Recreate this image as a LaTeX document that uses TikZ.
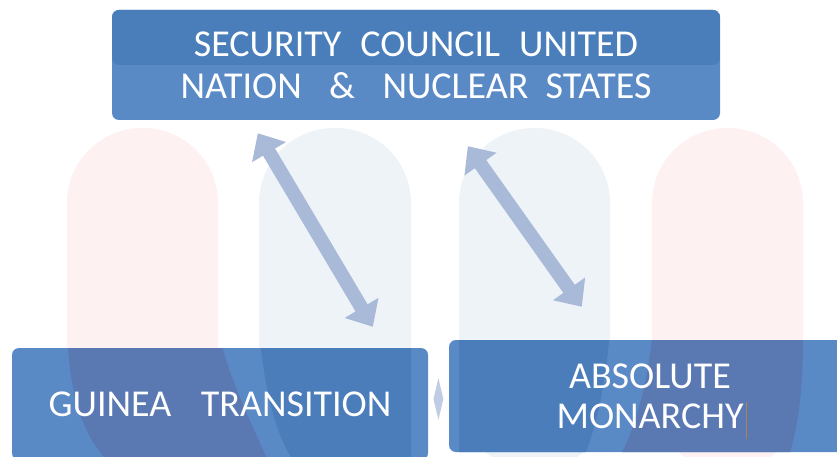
\documentclass[tikz,border=0pt]{standalone}
\usepackage{fontspec}
\setmainfont{Carlito}
\usetikzlibrary{positioning,arrows.meta,shapes.geometric}

\definecolor{boxlight}{HTML}{5A8AC6}
\definecolor{boxdark}{HTML}{4A7EBB}
\definecolor{tintblue}{HTML}{4A7DBA}
\definecolor{tintpink}{HTML}{5A79B3}
\definecolor{pillpink}{HTML}{FDF1F1}
\definecolor{pillblue}{HTML}{EEF3F8}
\definecolor{arrowblue}{HTML}{A8BAD8}
\definecolor{gapblue}{HTML}{BFCCE3}
\definecolor{caretbrown}{HTML}{B08050}

\tikzset{
  box/.style={rounded corners=7pt, fill=boxlight, text=white, align=center,
    inner sep=0pt, font=\fontsize{38}{42}\selectfont},
  lefttint/.style={path picture={
      \pgftransformreset
      \fill[tintpink] (67,330) .. controls (70,400) and (85,440) .. (117,470)
        -- (272,470) .. controls (250,420) and (230,380) .. (218,330) -- cycle;
      \fill[tintblue] (259,330) .. controls (266,400) and (278,440) .. (300,470)
        -- (411,470) -- (411,330) -- cycle;
    }},
  righttint/.style={path picture={
      \pgftransformreset
      \fill[tintblue] (459,330) -- (610,330) .. controls (604,400) and (592,440) .. (578,470)
        -- (459,470) -- cycle;
      \fill[tintpink] (653,330) .. controls (645,400) and (630,440) .. (612,470)
        -- (785,470) .. controls (797,430) and (803,400) .. (803,330) -- cycle;
    }},
  twin/.style={draw=arrowblue, line width=14pt,
    {Triangle[length=22pt,width=38pt]}-{Triangle[length=22pt,width=38pt]}},
}

\begin{document}
\begin{tikzpicture}[x=1pt,y=-1pt]
    \useasboundingbox (0,0) rectangle (837,457);
    % columns behind
    \foreach \xa/\xb/\pill in {67/218/pillpink, 259/411/pillblue, 459/610/pillblue, 652/803/pillpink}
      \fill[\pill, rounded corners=75pt] (\xa,128) rectangle (\xb,470);

    \node[box, minimum width=608pt, minimum height=110pt,
      path picture={\fill[boxdark] (path picture bounding box.north west) rectangle (path picture bounding box.east);}]
      (council) at (416,65)
      {SECURITY\hspace{.5em}COUNCIL\hspace{.5em}UNITED\\NATION\hspace{.72em}\&\hspace{.72em}NUCLEAR\hspace{.45em}STATES};
    \node[box, lefttint, minimum width=416pt, minimum height=112pt] (guinea) at (220,404)
      {GUINEA\hspace{.78em}TRANSITION};
    \node[box, righttint, minimum width=402pt, minimum height=112pt,
      font=\fontsize{38}{40}\selectfont] (monarchy) at (650,396)
      {ABSOLUTE\\MONARCHY};
    \node[shape=diamond, fill=gapblue, minimum width=10pt, minimum height=42pt,
      inner sep=0pt, right=5pt of guinea, yshift=5pt] (gap) {};

    \coordinate (c1) at ([shift={(146pt,-13pt)}]council.south west);
    \coordinate (c2) at ([shift={(361pt,21pt)}]guinea.north west);
    \coordinate (c3) at ([shift={(356pt,-26pt)}]council.south west);
    \coordinate (c4) at ([shift={(133pt,33pt)}]monarchy.north west);
    \draw[twin] (c1) -- (c2);
    \draw[twin] (c3) -- (c4);

    \draw[caretbrown, line width=0.8pt] ([shift={(96pt,-6pt)}]monarchy.center) -- ++(0,37);
\end{tikzpicture}
\end{document}
